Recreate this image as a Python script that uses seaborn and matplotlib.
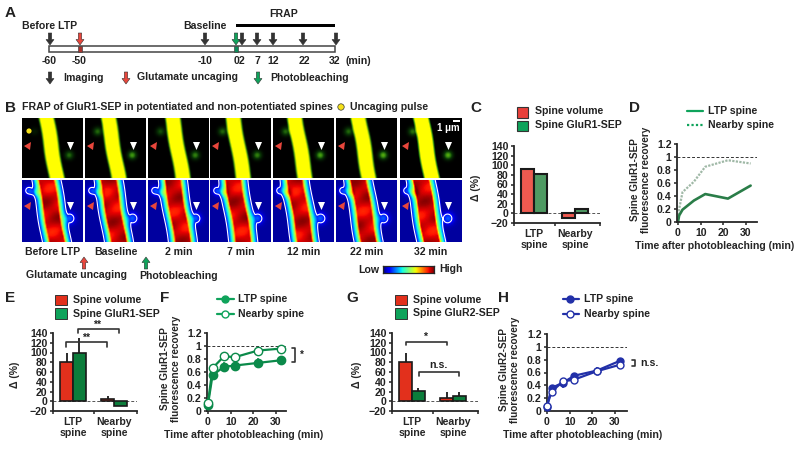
import numpy as np
import pandas as pd
import matplotlib
matplotlib.use('Agg')
import matplotlib.pyplot as plt
from matplotlib.colors import LinearSegmentedColormap
from matplotlib.patches import Rectangle, Circle, Polygon, FancyArrow
import seaborn as sns

sns.set_style('ticks')
plt.rcParams['font.family'] = ['Liberation Sans', 'DejaVu Sans']
plt.rcParams['font.weight'] = 'bold'
plt.rcParams['axes.labelweight'] = 'bold'
plt.rcParams['text.color'] = '#222222'

W, H = 799, 450

# bar panels
groups = ['LTP\nspine', 'Nearby\nspine']
kinds = ['Spine volume', 'Spine GluR']
c_volume = [92, -10]
c_glur = [82, 10]
e_volume = [80, 5]
e_glur = [98, -10]
e_volume_err = [18, 6]
e_glur_err = [32, 0]
g_volume = [80, 6]
g_glur = [22, 10]
g_volume_err = [20, 12]
g_glur_err = [6, 10]
delta_ticks = [-20, 0, 20, 40, 60, 80, 100, 120, 140]

# recovery panels
d_time = [0, 0.5, 2, 7, 12, 22, 32]
d_ltp = [0, 0.1, 0.19, 0.33, 0.43, 0.36, 0.56]
d_nearby = [0, 0.2, 0.46, 0.62, 0.85, 0.95, 0.9]
frap_time = [0, 2, 7, 12, 22, 32]
f_ltp = [0.1, 0.55, 0.68, 0.7, 0.74, 0.78]
f_ltp_err = [0.04, 0.06, 0.08, 0.06, 0.08, 0.05]
f_nearby = [0.13, 0.66, 0.84, 0.83, 0.93, 0.96]
f_nearby_err = [0.03, 0.05, 0.04, 0.04, 0.05, 0.03]
h_ltp = [0.07, 0.36, 0.44, 0.55, 0.63, 0.78]
h_ltp_err = [0.04, 0.04, 0.08, 0.05, 0.06, 0.05]
h_nearby = [0.08, 0.3, 0.46, 0.49, 0.62, 0.72]
h_nearby_err = [0.03, 0.05, 0.05, 0.05, 0.05, 0.06]
recovery_ticks = [0, 0.2, 0.4, 0.6, 0.8, 1, 1.2]
recovery_labels = ['0', '0.2', '0.4', '0.6', '0.8', '1', '1.2']

# timeline
image_times = [50, 205, 242, 257, 273, 303, 336]
time_labels = ['-60', '-50', '-10', '02', '7', '12', '22', '32']
time_label_x = [49, 79, 205, 239, 257, 273, 304, 335]

# image tiles
tile_names = ['Before LTP', 'Baseline', '2 min', '7 min', '12 min', '22 min', '32 min']
tile_x = [22, 85, 148, 210, 273, 336, 400]
tile_shift = [0.0, -0.02, 0.0, -0.02, -0.04, -0.03, -0.06]
left_spine = [0.08, 0.3, 0.25, 0.3, 0.3, 0.3, 0.32]
right_spine = [0.3, 0.4, 0.35, 0.35, 0.42, 0.45, 0.45]

RED = '#e8463c'
GREEN = '#0fa35b'
DARK = '#333333'

fig = plt.figure(figsize=(W / 100, H / 100), dpi=100)
over = fig.add_axes([0, 0, 1, 1], zorder=5)
over.set_xlim(0, W)
over.set_ylim(H, 0)
over.axis('off')


def box(x0, y0, x1, y1):
    return fig.add_axes([x0 / W, 1 - y1 / H, (x1 - x0) / W, (y1 - y0) / H])


def txt(x, y, s, size=7.6, ha='left', **kw):
    over.text(x, y, s, fontsize=size, ha=ha, va='center', **kw)


def arrow(x, y0, y1, color):
    over.add_patch(FancyArrow(x, y0, 0, y1 - y0, width=3.4, head_width=8, head_length=5.5,
                              length_includes_head=True, fc=color, ec='#333333', lw=0.4))


def bracket(x0, x1, y, drop=4):
    over.plot([x0, x0, x1, x1], [y + drop, y, y, y + drop], color=DARK, lw=1.2)


def tri(points, color):
    over.add_patch(Polygon(points, closed=True, fc=color, ec='none'))


def style_axis(ax):
    sns.despine(ax=ax)
    ax.patch.set_alpha(0)
    ax.spines['left'].set_linewidth(1.3)
    ax.spines['bottom'].set_linewidth(1.3)
    ax.tick_params(axis='both', length=2.5, width=1.1, pad=1.5, labelsize=7.6, colors='#222222')


def bar_panel(rect, volume, glur, colors, ylabel_x, errors=None, edge=1.2):
    ax = box(*rect)
    df = pd.DataFrame({'group': groups * 2,
                       'kind': kinds[0:1] * 2 + kinds[1:2] * 2,
                       'delta': volume + glur})
    sns.barplot(data=df, x='group', y='delta', hue='kind', palette=colors, width=0.62, saturation=1,
                edgecolor='#1a1a1a', linewidth=edge, legend=False, ax=ax)
    ax.axhline(0, color='#555555', lw=0.7, ls=(0, (3, 2)), zorder=0)
    if errors:
        xs = sorted(p.get_x() + p.get_width() / 2 for p in ax.patches if p.get_width() > 0)
        means = [volume[0], glur[0], volume[1], glur[1]]
        errs = [errors[0][0], errors[1][0], errors[0][1], errors[1][1]]
        low = [0, 0, 0, 0]
        ax.errorbar(xs, means, yerr=[low, errs], fmt='none', ecolor='#1a1a1a', elinewidth=1.3, capsize=0)
    px = 41
    centre0 = rect[0] + 20
    ax.set_xlim((rect[0] - centre0) / px, (rect[2] - centre0) / px)
    ax.set_ylim(-20, 140)
    ax.set_yticks(delta_ticks)
    ax.set_xticks([ax.get_xlim()[0], 0.5, ax.get_xlim()[1]], ['', '', ''])
    ax.set_xticks([0, 1], groups, minor=True)
    ax.set_xlabel('')
    ax.set_ylabel('Δ (%)', fontsize=7.6, rotation=90)
    ax.yaxis.set_label_coords(ylabel_x, (rect[1] + rect[3]) / 2 + 3, transform=over.transData)
    style_axis(ax)
    ax.tick_params(axis='x', which='minor', length=0, pad=4, labelsize=7.6)
    return ax


def recovery_panel(rect, zero_x, ylabel, ylabel_x, xlabel_x):
    ax = box(*rect)
    ax.set_xlim((rect[0] - zero_x) / 2.27, (rect[2] - zero_x) / 2.27)
    ax.set_ylim(0, 1.2)
    ax.axhline(1, color='#333333', lw=0.7, ls=(0, (3, 2)), zorder=0)
    ax.set_yticks(recovery_ticks, recovery_labels)
    ax.set_xticks([0, 10, 20, 30])
    ax.set_ylabel(ylabel, fontsize=7.2, linespacing=1.1)
    ax.yaxis.set_label_coords(ylabel_x, (rect[1] + rect[3]) / 2 - 3, transform=over.transData)
    ax.set_xlabel('Time after photobleaching (min)', fontsize=7.6)
    ax.xaxis.set_label_coords(xlabel_x, rect[3] + 19, transform=over.transData)
    style_axis(ax)
    return ax


def draw_series(ax, means, errs, color, filled, size=6):
    df = pd.DataFrame({'t': frap_time, 'y': means})
    ax.errorbar(frap_time, means, yerr=errs, fmt='none', ecolor=color, elinewidth=1.1, clip_on=False, zorder=3)
    sns.lineplot(data=df, x='t', y='y', color=color, lw=1.6, marker='o', markersize=size,
                 markerfacecolor=color if filled else 'white', markeredgecolor=color,
                 markeredgewidth=1.0, clip_on=False, zorder=4 if filled else 5, ax=ax)


# A: timeline
txt(5, 13, 'A', size=11)
over.add_patch(Rectangle((49, 46), 286, 6, fc='white', ec='#444444', lw=1.1))
over.add_patch(Rectangle((78, 46), 4, 6, fc='#a8322c', ec='#444444', lw=0.5))
over.add_patch(Rectangle((234, 46), 4, 6, fc='#0c8a58', ec='#444444', lw=0.5))
over.add_patch(Rectangle((236, 24), 99, 3, fc='black', ec='none'))
for x in image_times:
    arrow(x, 33, 45, '#333333')
arrow(80, 33, 45, RED)
arrow(236, 33, 45, GREEN)
txt(284, 14, 'FRAP', ha='center')
txt(22, 26, 'Before LTP')
txt(183, 26, 'Baseline')
for x, s in zip(time_label_x, time_labels):
    txt(x, 61, s, ha='center')
txt(346, 61, '(min)')
arrow(50, 72, 84, '#333333')
txt(63, 78, 'Imaging')
arrow(126, 72, 84, RED)
txt(137, 77, 'Glutamate uncaging')
arrow(258, 72, 84, GREEN)
txt(270, 78, 'Photobleaching')

# B: image strips
txt(5, 108, 'B', size=11)
txt(22, 107, 'FRAP of GluR1-SEP in potentiated and non-potentiated spines')
over.add_patch(Circle((341, 107), 3.2, fc='#f5e11a', ec='#333333', lw=0.5))
txt(350, 107, 'Uncaging pulse')

green_map = LinearSegmentedColormap.from_list('sep', ['#000000', '#0a3a06', '#3f9a10', '#b4d40a', '#ffff00', '#ffff00'])
yy, xx = np.mgrid[0:1:62j, 0:1:62j]


def spot(cx, cy, r):
    return np.exp(-((xx - cx) ** 2 + (yy - cy) ** 2) / (2 * r ** 2))


for i, x0 in enumerate(tile_x):
    centre = 0.40 + tile_shift[i] + 0.17 * yy + 0.008 * np.sin(yy * 7 + i)
    dist = np.abs(xx - centre)
    band = np.clip((0.15 - dist) / 0.06, 0, 1)
    field = band + left_spine[i] * spot(0.2, 0.22, 0.05) + right_spine[i] * spot(0.78, 0.62, 0.05)
    top = box(x0, 118, x0 + 61, 178)
    top.imshow(field, cmap=green_map, vmin=0, vmax=1, extent=(0, 1, 1, 0), aspect='auto')
    top.axis('off')

    halo = np.clip((0.26 - dist) / 0.13, 0, 1) * 0.62
    core = np.clip((0.15 - dist) / 0.035, 0, 1) * (0.28 + 0.06 * np.sin(xx * 9 + yy * 4 + i) * np.sin(yy * 13 - i))
    heat = 0.03 + halo + core + 0.16 * spot(0.11, 0.17, 0.05) + 0.16 * spot(0.22, 0.2, 0.05) + 0.18 * spot(0.78, 0.62, 0.065)
    low = box(x0, 180, x0 + 61, 242)
    low.imshow(heat, cmap='jet', vmin=0, vmax=1, extent=(0, 1, 1, 0), aspect='auto')
    low.contour(xx, yy, heat, levels=[0.13], colors='white', linewidths=0.8)
    low.set_xlim(0, 1)
    low.set_ylim(1, 0)
    low.axis('off')

    for ytop in (142, 202):
        tri([(x0 + 45, ytop), (x0 + 52, ytop), (x0 + 48.5, ytop + 8)], 'white')
        tri([(x0 + 2, ytop + 4), (x0 + 9, ytop), (x0 + 8, ytop + 8)], RED)
    txt(x0 + 30.5, 252, tile_names[i], ha='center')

over.add_patch(Circle((29, 131), 2.6, fc='#f5e11a', ec='none'))
over.add_patch(Rectangle((453, 120), 7, 2, fc='white', ec='none'))
txt(460, 128, '1 μm', size=7, ha='right', color='white')
arrow(84, 269, 257, RED)
arrow(146, 269, 257, GREEN)
txt(26, 275, 'Glutamate uncaging')
txt(139, 276, 'Photobleaching')
bar = box(383, 266, 434, 273)
bar.imshow(np.linspace(0, 1, 128)[None, :], cmap='jet', aspect='auto')
bar.set_xticks([])
bar.set_yticks([])
for s in bar.spines.values():
    s.set_linewidth(0.9)
txt(358, 270, 'Low')
txt(439, 269, 'High')

# C
txt(470, 108, 'C', size=11)
bar_panel((514, 146, 600, 223), c_volume, c_glur, ['#ee5a50', '#4f9a63'], 481, edge=1.5)
over.add_patch(Rectangle((517, 107), 11, 11, fc='#e8403a', ec='#333333', lw=0.8))
over.add_patch(Rectangle((517, 121), 11, 10, fc='#0fa35b', ec='#333333', lw=0.8))
txt(535, 111, 'Spine volume')
txt(535, 125, 'Spine GluR1-SEP')

# D
txt(629, 108, 'D', size=11)
ax_d = recovery_panel((677, 144, 757, 222), 678, 'Spine GluR1-SEP\nfluorescence recovery', 651, 715)
sns.lineplot(x=d_time, y=d_nearby, color='#9fb8a6', lw=1.6, ls=(0, (1, 0.6)), clip_on=False, ax=ax_d)
sns.lineplot(x=d_time, y=d_ltp, color='#2a7d48', lw=1.9, clip_on=False, ax=ax_d)
over.plot([687, 703], [111, 111], color=GREEN, lw=1.6)
over.plot([687, 703], [125, 125], color=GREEN, lw=1.6, ls=(0, (1, 1)))
txt(708, 111, 'LTP spine')
txt(708, 125, 'Nearby spine')

# E
txt(5, 298, 'E', size=11)
bar_panel((53, 333, 137, 411), e_volume, e_glur, ['#e2301c', '#0c7d3b'], 20,
          errors=(e_volume_err, e_glur_err))
over.add_patch(Rectangle((55, 295), 12, 10, fc='#e2301c', ec='#333333', lw=0.7))
over.add_patch(Rectangle((55, 308), 12, 11, fc='#0fa35b', ec='#333333', lw=0.7))
txt(73, 300, 'Spine volume')
txt(73, 314, 'Spine GluR1-SEP')
bracket(66, 107, 342, 5)
bracket(78, 119, 329, 4)
txt(86, 338, '**', ha='center')
txt(97, 325, '**', ha='center')

# F
txt(160, 298, 'F', size=11)
ax_f = recovery_panel((207, 333, 286, 411), 208, 'Spine GluR1-SEP\nfluorescence recovery', 181, 244)
draw_series(ax_f, f_ltp, f_ltp_err, '#0b8a4a', True)
draw_series(ax_f, f_nearby, f_nearby_err, '#0b8a4a', False)
over.plot([217, 234], [299, 299], color=GREEN, lw=1.6)
over.plot([224.5], [299], 'o', ms=5, color=GREEN)
over.plot([217, 234], [314, 314], color=GREEN, lw=1.6)
over.plot([224.5], [314], 'o', ms=5, mfc='white', mec=GREEN)
txt(238, 299, 'LTP spine')
txt(238, 314, 'Nearby spine')
over.plot([292, 295, 295, 292], [348, 348, 362, 362], color=DARK, lw=1.2)
txt(302, 355, '*', ha='center', size=7)

# G
txt(346, 298, 'G', size=11)
bar_panel((392, 333, 478, 411), g_volume, g_glur, ['#e2301c', '#0c7d3b'], 362,
          errors=(g_volume_err, g_glur_err))
over.add_patch(Rectangle((395, 295), 12, 10, fc='#e2301c', ec='#333333', lw=0.7))
over.add_patch(Rectangle((395, 308), 12, 11, fc='#0fa35b', ec='#333333', lw=0.7))
txt(413, 300, 'Spine volume')
txt(413, 313, 'Spine GluR2-SEP')
bracket(406, 447, 342, 3)
bracket(419, 459, 372, 4)
txt(425, 337, '*', ha='center')
txt(438, 365, 'n.s.', ha='center')

# H
txt(498, 298, 'H', size=11)
ax_h = recovery_panel((547, 334, 627, 411), 547, 'Spine GluR2-SEP\nfluorescence recovery', 520, 583)
draw_series(ax_h, h_nearby, h_nearby_err, '#2230a8', False, size=5)
draw_series(ax_h, h_ltp, h_ltp_err, '#2230a8', True, size=5)
over.plot([563, 579], [299, 299], color='#2230a8', lw=1.6)
over.plot([570], [299], 'o', ms=5, color='#2230a8')
over.plot([563, 579], [314, 314], color='#2230a8', lw=1.6)
over.plot([570], [314], 'o', ms=5, mfc='white', mec='#2230a8')
txt(584, 299, 'LTP spine')
txt(584, 314, 'Nearby spine')
over.plot([632, 635, 635, 632], [360, 360, 366, 366], color=DARK, lw=1.2)
txt(640, 363, 'n.s.')

fig.savefig('out.png', dpi=100)
